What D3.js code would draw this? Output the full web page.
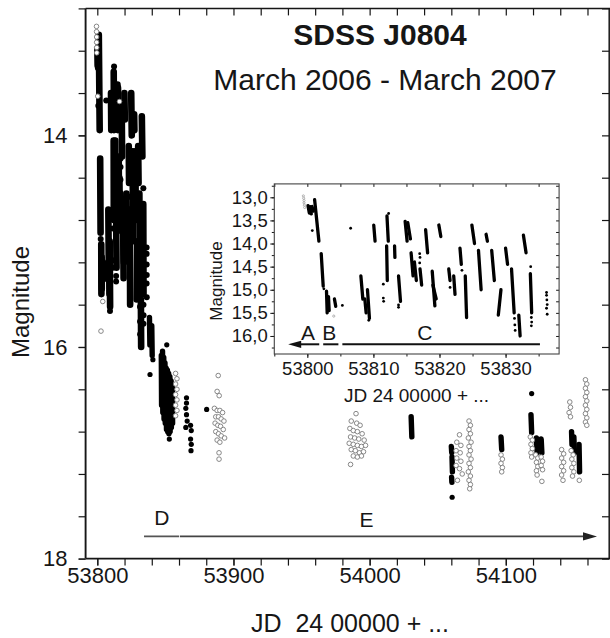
<!DOCTYPE html>
<html><head><meta charset="utf-8">
<script src="https://cdn.jsdelivr.net/npm/d3@7"></script>
<style>body{margin:0;background:#fff}svg{display:block}text{font-family:"Liberation Sans",Arial,sans-serif}</style>
</head><body><svg id="c" width="610" height="638"></svg>
<script>
// ---------------- DATA ----------------
// Tick labels
const mainXTicks = [53800, 53900, 54000, 54100];
const mainYTicks = [14, 16, 18];
const insetXTicks = [53800, 53810, 53820, 53830];
const insetYTicks = [13.0, 13.5, 14.0, 14.5, 15.0, 15.5, 16.0];

// Nightly runs of the early (outburst) part: [JD start, JD end, mag at start, mag at end]
const earlyRuns = [
  [53800.1, 53800.3, 13.18, 13.34], [53800.4, 53800.6, 13.20, 13.36], [53800.7, 53800.9, 13.20, 13.30],
  [53801.1, 53801.75, 13.05, 13.95], [53802.1, 53802.4, 14.22, 14.92], [53802.9, 53803.0, 15.03, 15.50],
  [53803.2, 53803.3, 15.15, 15.45], [53804.1, 53804.3, 15.20, 15.36], [53808.1, 53808.4, 14.70, 15.20],
  [53808.7, 53808.9, 15.20, 15.50], [53809.1, 53809.4, 15.00, 15.62], [53810.05, 53810.25, 13.60, 13.95],
  [53812.05, 53812.25, 13.40, 13.95], [53812.0, 53812.1, 14.05, 14.80], [53813.2, 53813.25, 14.05, 14.30],
  [53813.8, 53814.1, 14.70, 15.25], [53814.8, 53815.1, 13.52, 13.95], [53815.2, 53815.6, 13.55, 13.90],
  [53815.7, 53816.0, 14.20, 14.70], [53816.2, 53816.5, 14.40, 14.80], [53817.05, 53817.3, 14.55, 14.90],
  [53817.9, 53818.2, 13.70, 14.20], [53818.9, 53819.3, 14.60, 15.35], [53819.0, 53819.5, 14.90, 15.20],
  [53819.9, 53820.2, 13.60, 13.85], [53821.4, 53821.6, 14.55, 14.80], [53822.15, 53822.35, 14.70, 15.10],
  [53823.1, 53823.3, 14.10, 14.45], [53823.9, 53824.1, 14.70, 15.60], [53824.9, 53825.3, 13.60, 14.00],
  [53825.9, 53826.3, 14.15, 15.00], [53827.05, 53827.25, 13.80, 13.95], [53827.9, 53828.3, 14.15, 14.80],
  [53828.9, 53829.3, 15.55, 15.00], [53830.0, 53830.3, 14.10, 14.45], [53830.9, 53831.3, 14.55, 15.50],
  [53832.0, 53832.2, 15.55, 16.00], [53832.7, 53833.1, 13.82, 14.20], [53833.75, 53833.95, 14.65, 15.50]
];
// Single filled points of the early part: [JD, mag]
const earlyDots = [
  [53800.75, 13.72], [53802.5, 14.98], [53805.3, 15.34], [53806.55, 13.67], [53809.3, 15.66],
  [53811.5, 14.88], [53811.5, 15.18], [53811.55, 15.25], [53812.3, 13.35], [53813.8, 15.33],
  [53813.8, 15.38], [53817.0, 14.22], [53817.05, 14.30], [53817.0, 14.42], [53821.6, 14.95],
  [53823.4, 14.58], [53831.35, 15.62], [53831.4, 15.76], [53831.45, 15.88], [53833.8, 14.50],
  [53833.9, 15.60], [53833.95, 15.70], [53833.9, 15.78], [53836.2, 15.06], [53836.2, 15.12],
  [53836.25, 15.22], [53836.3, 15.32], [53836.2, 15.40], [53836.3, 15.53]
];
// Open-circle points of the early part: [JD, mag]
const earlyOpen = [
  [53799.4, 12.97], [53799.45, 13.02], [53799.5, 13.07], [53799.5, 13.12], [53799.55, 13.17], [53799.6, 13.22],
  [53804.0, 15.57]
];
// Main-panel only: later nightly runs [JD start, JD end, mag start, mag end]
const lateRuns = [
  [53838.3, 53838.6, 15.72, 15.98], [53840.0, 53840.3, 15.80, 16.08],
  [53847.0, 53847.2, 16.08, 16.55], [53847.9, 53848.1, 16.04, 16.62], [53848.8, 53849.0, 16.10, 16.68],
  [53849.7, 53849.9, 16.15, 16.72], [53850.6, 53850.8, 16.20, 16.78], [53851.5, 53851.7, 16.22, 16.80],
  [53852.4, 53852.6, 16.25, 16.82], [53853.3, 53853.5, 16.28, 16.80], [53854.2, 53854.4, 16.32, 16.76],
  [53855.1, 53855.3, 16.38, 16.72],
  [54030.5, 54031.0, 16.66, 16.85],
  [54060.0, 54060.3, 16.94, 17.00], [54060.5, 54060.8, 17.04, 17.18], [54060.2, 54060.4, 17.23, 17.28],
  [54096.5, 54097.0, 16.85, 16.97],
  [54118.5, 54119.0, 16.64, 16.81],
  [54122.5, 54123.0, 16.86, 17.00],
  [54126.0, 54126.5, 16.87, 17.00],
  [54148.3, 54148.6, 16.80, 16.92], [54150.0, 54150.4, 16.85, 17.00], [54153.8, 54154.2, 16.92, 17.18]
];
// Main-panel only: later single filled points [JD, mag]
const lateDots = [
  [53838.7, 16.26], [53840.8, 16.12], [53851.0, 15.98], [53852.9, 16.87],
  [53865.5, 16.48], [53865.5, 16.53], [53865.0, 16.58], [53865.5, 16.64], [53866.0, 16.70], [53865.0, 16.76],
  [53868.5, 16.74], [53869.0, 16.79], [53868.5, 16.87], [53869.0, 16.92], [53868.8, 16.98],
  [53880.3, 16.59], [54060.6, 17.42], [54119.0, 16.44]
];
// Main-panel only: later open-circle points [JD, mag]
const lateOpen = [
  [53802.7, 15.85], [53800.3, 13.63], [53816.3, 13.68],
  [53857.5, 16.25], [53858.5, 16.30], [53857.5, 16.35], [53858.5, 16.40], [53857.5, 16.45], [53858.5, 16.50],
  [53857.5, 16.55], [53858.5, 16.60], [53857.5, 16.65],
  [53888.8, 16.27], [53888.0, 16.42], [53889.5, 16.46], [53886.0, 16.58], [53888.0, 16.60], [53890.0, 16.60],
  [53892.0, 16.62], [53887.0, 16.66], [53889.0, 16.66], [53891.0, 16.68], [53893.0, 16.70], [53886.5, 16.72],
  [53888.5, 16.74], [53890.5, 16.75], [53892.5, 16.78], [53887.0, 16.80], [53889.0, 16.82], [53891.0, 16.84],
  [53893.5, 16.86], [53888.0, 16.88], [53890.0, 16.90], [53889.4, 17.00], [53889.4, 17.06],
  [53990.0, 16.63], [53986.5, 16.70], [53990.5, 16.72], [53993.0, 16.74], [53985.5, 16.77], [53988.0, 16.79],
  [53991.0, 16.80], [53994.5, 16.82], [53986.0, 16.85], [53989.0, 16.86], [53992.0, 16.87], [53996.0, 16.88],
  [53985.0, 16.91], [53988.0, 16.92], [53991.0, 16.93], [53994.0, 16.94], [53997.0, 16.93], [53986.5, 16.97],
  [53989.5, 16.98], [53992.5, 17.00], [53995.5, 16.99], [53988.0, 17.03], [53991.0, 17.04], [53994.0, 17.03],
  [53986.0, 17.11],
  [54066.0, 16.83], [54064.0, 16.90], [54067.0, 16.93], [54063.5, 16.98], [54066.5, 17.00], [54064.0, 17.05],
  [54067.0, 17.08], [54063.5, 17.12], [54066.0, 17.15], [54068.0, 17.20], [54064.5, 17.26],
  [54073.0, 16.70], [54074.0, 16.74], [54073.0, 16.78], [54074.0, 16.82], [54072.5, 16.86], [54074.5, 16.90],
  [54073.0, 16.94], [54074.0, 16.98], [54073.0, 17.02], [54074.5, 17.06], [54073.0, 17.10], [54074.0, 17.14],
  [54072.5, 17.18], [54074.0, 17.22], [54073.0, 17.26], [54074.0, 17.30], [54073.5, 17.34],
  [54096.5, 17.02], [54097.5, 17.06], [54096.5, 17.10], [54097.5, 17.14], [54097.0, 17.18],
  [54118.0, 16.85], [54119.5, 16.88], [54118.5, 16.92], [54119.5, 16.96], [54118.5, 17.00], [54119.0, 17.04],
  [54122.0, 17.02], [54123.5, 17.05], [54122.5, 17.09], [54123.5, 17.13], [54122.5, 17.17], [54123.0, 17.21],
  [54126.0, 17.04], [54127.0, 17.08], [54126.0, 17.12], [54127.0, 17.16], [54126.5, 17.27],
  [54141.0, 16.97], [54142.5, 17.01], [54141.0, 17.05], [54142.5, 17.09], [54141.0, 17.13], [54142.5, 17.17],
  [54141.0, 17.21], [54142.0, 17.26],
  [54147.0, 16.52], [54147.5, 16.57], [54146.5, 16.62], [54147.5, 16.66],
  [54148.0, 16.98], [54149.5, 17.02], [54148.5, 17.06], [54150.0, 17.10], [54148.5, 17.14], [54150.0, 17.18],
  [54149.0, 17.22], [54154.0, 17.26],
  [54158.5, 16.31], [54159.5, 16.35], [54158.5, 16.39], [54159.5, 16.43], [54158.5, 16.47], [54159.5, 16.51],
  [54158.5, 16.55], [54159.5, 16.59], [54158.5, 16.63], [54159.5, 16.67], [54158.5, 16.71], [54159.5, 16.74]
];
// Annotations (segment ends in JD, level in mag)
const phaseMain = { mag: 17.79, d: [53834.3, 53860.0], e: [53860.6, 54167.0] };
const phaseInset = { mag: 16.18, a: [53797.1, 53801.8], b: [53802.4, 53804.7], c: [53805.3, 53835.2] };

// ---------------- DRAWING ----------------
const svg = d3.select("#c");
svg.append("rect").attr("width", 610).attr("height", 638).attr("fill", "#fff");
const INK = "#161616";

const xMain = d3.scaleLinear().domain([53791.4, 54175.8]).range([85.6, 609]);
const yMain = d3.scaleLinear().domain([12.8, 18]).range([8.4, 558.6]);
const xIn = d3.scaleLinear().domain([53795, 53838.1]).range([274.3, 559.1]);
const yIn = d3.scaleLinear().domain([12.71, 16.39]).range([183.9, 354]);

function runs(g, data, x, y, w) {
  g.selectAll(null).data(data).join("line")
    .attr("x1", d => x(d[0])).attr("x2", d => x(d[1]))
    .attr("y1", d => y(d[2])).attr("y2", d => y(d[3]))
    .attr("stroke", "#000").attr("stroke-width", w).attr("stroke-linecap", "round");
}
function dots(g, data, x, y, r) {
  g.selectAll(null).data(data).join("circle")
    .attr("cx", d => x(d[0])).attr("cy", d => y(d[1])).attr("r", r).attr("fill", "#000");
}
function opens(g, data, x, y, r, sw, col) {
  g.selectAll(null).data(data).join("circle")
    .attr("cx", d => x(d[0])).attr("cy", d => y(d[1])).attr("r", r)
    .attr("fill", "#fff").attr("stroke", col).attr("stroke-width", sw);
}
function styleAxis(g, fs) {
  g.attr("color", INK).attr("font-family", '"Liberation Sans",Arial,sans-serif').attr("font-size", fs);
  g.select(".domain").remove();
  g.selectAll(".tick line").attr("stroke-width", 1.2);
}

// ----- main panel data -----
const gm = svg.append("g");
runs(gm, earlyRuns, xMain, yMain, 6.6);
runs(gm, lateRuns, xMain, yMain, 5.4);
dots(gm, earlyDots, xMain, yMain, 3.0);
dots(gm, lateDots, xMain, yMain, 2.6);
opens(gm, earlyOpen.concat(lateOpen), xMain, yMain, 2.3, 0.9, "#7a7a7a");

// ----- main axes -----
const minorX = d3.range(0, 19).map(i => 53800 + i * 20);
const minorY = d3.range(32, 46).map(i => i * 0.4);
svg.append("g").attr("transform", "translate(0,558.6)")
  .call(d3.axisBottom(xMain).tickValues(minorX).tickSize(7).tickFormat("")).call(g => styleAxis(g, 22));
svg.append("g").attr("transform", "translate(0,558.6)")
  .call(d3.axisBottom(xMain).tickValues(mainXTicks).tickSize(7).tickPadding(2).tickFormat(d3.format("d")))
  .call(g => styleAxis(g, 22));
svg.append("g").attr("transform", "translate(0,8.4)")
  .call(d3.axisTop(xMain).tickValues(minorX).tickSize(-7).tickFormat("")).call(g => styleAxis(g, 22));
svg.append("g").attr("transform", "translate(85.6,0)")
  .call(d3.axisLeft(yMain).tickValues(minorY).tickSize(7).tickFormat("")).call(g => styleAxis(g, 22));
svg.append("g").attr("transform", "translate(85.6,0)")
  .call(d3.axisLeft(yMain).tickValues(mainYTicks).tickSize(7).tickPadding(11).tickFormat(d3.format("d")))
  .call(g => styleAxis(g, 22));
svg.append("g").attr("transform", "translate(609,0)")
  .call(d3.axisRight(yMain).tickValues(minorY).tickSize(-7).tickFormat("")).call(g => styleAxis(g, 22));
// frame
svg.append("line").attr("x1", 85.6).attr("x2", 85.6).attr("y1", 8.4).attr("y2", 558.6).attr("stroke", INK).attr("stroke-width", 1.9);
svg.append("line").attr("x1", 85.6).attr("x2", 610).attr("y1", 558.6).attr("y2", 558.6).attr("stroke", INK).attr("stroke-width", 1.9);
svg.append("line").attr("x1", 85.6).attr("x2", 610).attr("y1", 8.4).attr("y2", 8.4).attr("stroke", INK).attr("stroke-width", 1.5);
svg.append("line").attr("x1", 609.2).attr("x2", 609.2).attr("y1", 8.4).attr("y2", 558.6).attr("stroke", INK).attr("stroke-width", 1.5);

// ----- main annotations -----
const ym = yMain(phaseMain.mag);
svg.append("line").attr("x1", xMain(phaseMain.d[0])).attr("x2", xMain(phaseMain.d[1])).attr("y1", ym).attr("y2", ym)
  .attr("stroke", "#555").attr("stroke-width", 1.6);
const xe1 = xMain(phaseMain.e[1]);
svg.append("line").attr("x1", xMain(phaseMain.e[0])).attr("x2", xe1 - 10).attr("y1", ym).attr("y2", ym)
  .attr("stroke", "#444").attr("stroke-width", 1.6);
svg.append("path").attr("d", `M${xe1},${ym} L${xe1 - 14},${ym - 4.2} L${xe1 - 14},${ym + 4.2} Z`).attr("fill", "#222");
svg.append("text").attr("x", xMain(53847.3)).attr("y", 525).attr("text-anchor", "middle").attr("font-size", 21).attr("fill", INK).text("D");
svg.append("text").attr("x", xMain(53997.7)).attr("y", 527).attr("text-anchor", "middle").attr("font-size", 21).attr("fill", INK).text("E");

// titles
svg.append("text").attr("x", 380).attr("y", 44.5).attr("text-anchor", "middle").attr("font-size", 30).attr("font-weight", "bold").attr("fill", INK).text("SDSS J0804");
svg.append("text").attr("x", 385).attr("y", 89.5).attr("text-anchor", "middle").attr("font-size", 30).attr("fill", INK).text("March 2006 - March 2007");
svg.append("text").attr("transform", "translate(29,302) rotate(-90)").attr("text-anchor", "middle").attr("font-size", 24).attr("fill", INK).text("Magnitude");
svg.append("text").attr("x", 350).attr("y", 632).attr("text-anchor", "middle").attr("font-size", 25).attr("fill", INK).attr("xml:space", "preserve").style("white-space", "pre").text("JD  24 00000 + ...");

// ----- inset -----
const gi = svg.append("g");
gi.append("rect").attr("x", 274.3).attr("y", 183.9).attr("width", 559.1 - 274.3).attr("height", 354 - 183.9).attr("fill", "#fff");
gi.append("clipPath").attr("id", "clipIn").append("rect").attr("x", 274.3).attr("y", 183.9).attr("width", 559.1 - 274.3).attr("height", 354 - 183.9);
const gid = gi.append("g").attr("clip-path", "url(#clipIn)");
runs(gid, earlyRuns, xIn, yIn, 3.3);
dots(gid, earlyDots, xIn, yIn, 1.4);
opens(gid, earlyOpen, xIn, yIn, 1.1, 0.6, "#888");

const inMinorX = d3.range(0, 9).map(i => 53795 + i * 5);
const inMinorY = d3.range(0, 15).map(i => 12.75 + i * 0.25);
gi.append("g").attr("transform", "translate(0,354)")
  .call(d3.axisBottom(xIn).tickValues(inMinorX).tickSize(2.5).tickFormat("")).call(g => styleAxis(g, 18.5));
gi.append("g").attr("transform", "translate(0,354)")
  .call(d3.axisBottom(xIn).tickValues(insetXTicks).tickSize(4).tickPadding(3.5).tickFormat(d3.format("d")))
  .call(g => styleAxis(g, 18.5));
gi.append("g").attr("transform", "translate(0,183.9)")
  .call(d3.axisTop(xIn).tickValues(inMinorX).tickSize(-3).tickFormat("")).call(g => styleAxis(g, 18.5));
gi.append("g").attr("transform", "translate(274.3,0)")
  .call(d3.axisLeft(yIn).tickValues(inMinorY).tickSize(2.5).tickFormat("")).call(g => styleAxis(g, 18.5));
gi.append("g").attr("transform", "translate(274.3,0)")
  .call(d3.axisLeft(yIn).tickValues(insetYTicks).tickSize(4).tickPadding(2.5).tickFormat(d => d3.format(".1f")(d).replace(".", ",")))
  .call(g => styleAxis(g, 18.5));
gi.append("g").attr("transform", "translate(559.1,0)")
  .call(d3.axisRight(yIn).tickValues(inMinorY).tickSize(-3).tickFormat("")).call(g => styleAxis(g, 18.5));
gi.selectAll(".tick line").attr("stroke-width", 1);
gi.append("rect").attr("x", 274.3).attr("y", 183.9).attr("width", 559.1 - 274.3).attr("height", 354 - 183.9)
  .attr("fill", "none").attr("stroke", "#444").attr("stroke-width", 1.1);

// inset annotations
const yi = yIn(phaseInset.mag);
const xa = xIn(phaseInset.a[0]);
gi.append("line").attr("x1", xa + 9).attr("x2", xIn(phaseInset.a[1])).attr("y1", yi).attr("y2", yi).attr("stroke", "#111").attr("stroke-width", 2);
gi.append("path").attr("d", `M${xa},${yi} L${xa + 13},${yi - 3.6} L${xa + 13},${yi + 3.6} Z`).attr("fill", "#111");
gi.append("line").attr("x1", xIn(phaseInset.b[0])).attr("x2", xIn(phaseInset.b[1])).attr("y1", yi).attr("y2", yi).attr("stroke", "#111").attr("stroke-width", 2);
gi.append("line").attr("x1", xIn(phaseInset.c[0])).attr("x2", xIn(phaseInset.c[1])).attr("y1", yi).attr("y2", yi).attr("stroke", "#111").attr("stroke-width", 2);
gi.append("text").attr("x", xIn(53800.1)).attr("y", 340).attr("text-anchor", "middle").attr("font-size", 21).attr("fill", INK).text("A");
gi.append("text").attr("x", xIn(53803.3)).attr("y", 340).attr("text-anchor", "middle").attr("font-size", 21).attr("fill", INK).text("B");
gi.append("text").attr("x", xIn(53817.8)).attr("y", 340).attr("text-anchor", "middle").attr("font-size", 21).attr("fill", INK).text("C");
gi.append("text").attr("transform", "translate(222,281) rotate(-90)").attr("text-anchor", "middle").attr("font-size", 17).attr("fill", INK).text("Magnitude");
gi.append("text").attr("x", 416.5).attr("y", 402).attr("text-anchor", "middle").attr("font-size", 19).attr("fill", INK).text("JD 24 00000 + ...");
</script>
</body></html>
